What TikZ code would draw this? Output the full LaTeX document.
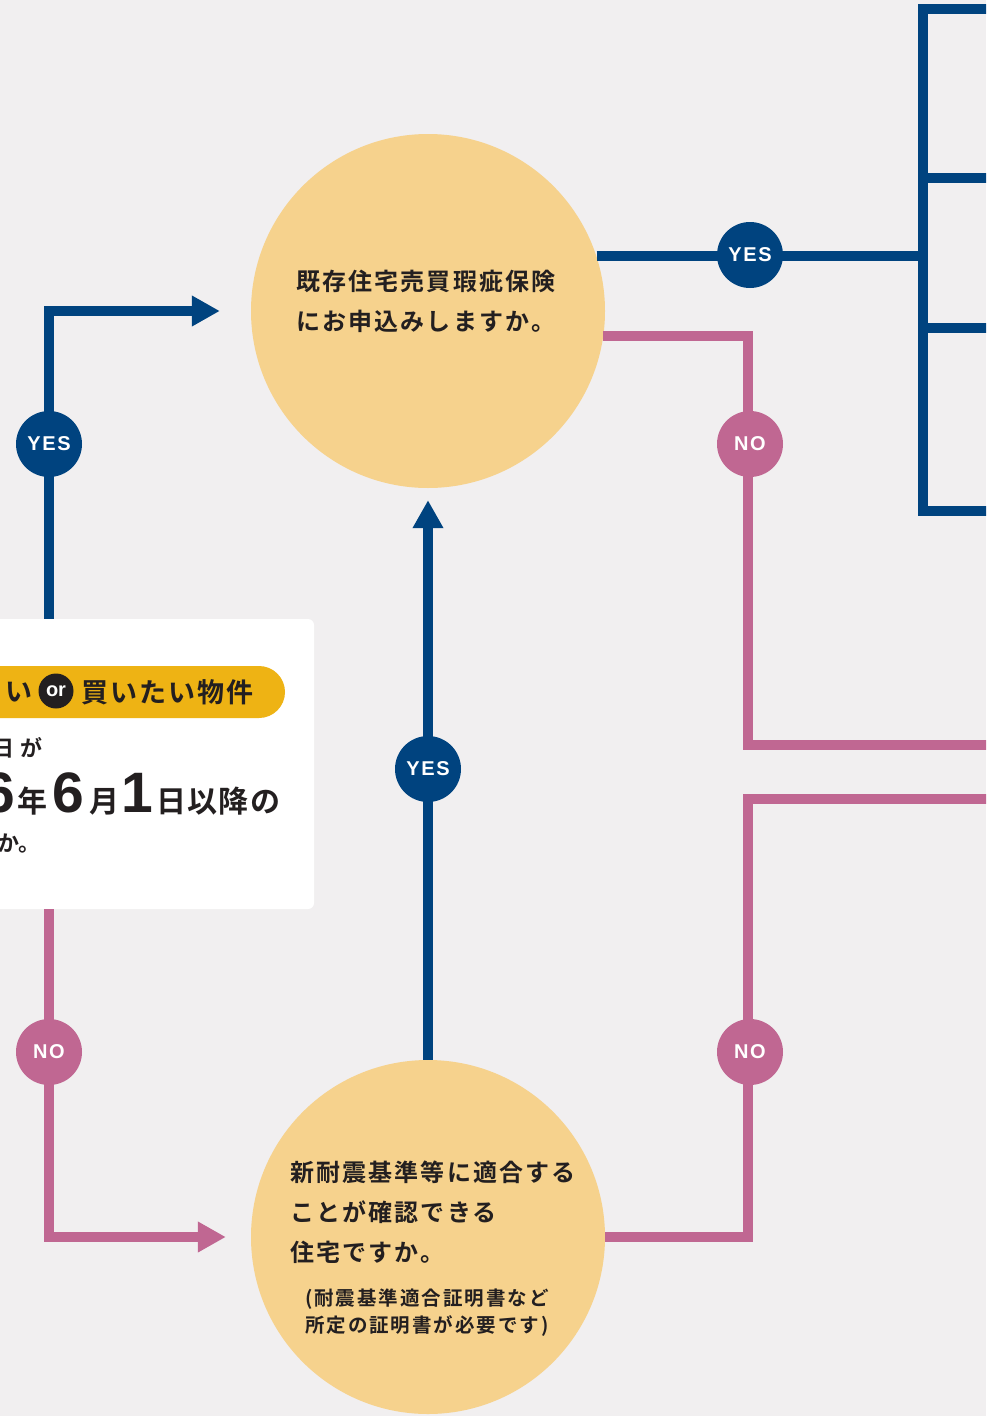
\documentclass[tikz,border=0pt]{standalone}
\usepackage{fontspec}
\setmainfont{Noto Sans CJK JP}[BoldFont={Noto Sans CJK JP Bold}]
\newfontfamily\latf{Liberation Sans}
\usetikzlibrary{arrows.meta}
\definecolor{bg}{RGB}{241,239,240}
\definecolor{navy}{RGB}{0,67,127}
\definecolor{rose}{RGB}{192,103,146}
\definecolor{sand}{RGB}{246,210,141}
\definecolor{gold}{RGB}{238,179,20}
\definecolor{ink}{RGB}{35,31,32}
\begin{document}
\begin{tikzpicture}[x=1pt,y=-1pt,
  q/.style={circle, fill=sand, minimum size=354pt, inner sep=0pt},
  badge/.style={circle, minimum size=66pt, inner sep=0pt, text=white,
    font=\latf\bfseries\fontsize{20}{20}\selectfont\addfontfeatures{LetterSpace=8}},
  yesb/.style={badge, fill=navy},
  nob/.style={badge, fill=rose},
  flow/.style={line width=10pt},
  blueline/.style={flow, draw=navy},
  pinkline/.style={flow, draw=rose},
  tip/.style={-{Triangle[length=28pt,width=29pt]}},
  txt/.style={inner sep=0pt, text=ink},
  qtext/.style={txt, align=left, font=\bfseries\fontsize{24}{40}\selectfont\addfontfeatures{LetterSpace=9}},
  smalltext/.style={txt, align=left, font=\bfseries\fontsize{19.5}{27}\selectfont\addfontfeatures{LetterSpace=10}},
  boxtext/.style={txt, font=\bfseries\fontsize{22}{22}\selectfont},
  pilltext/.style={txt, font=\bfseries\fontsize{27}{27}\selectfont\addfontfeatures{LetterSpace=8}},
  digit/.style={txt, font=\latf\bfseries\fontsize{57}{57}\selectfont},
  kanji/.style={txt, font=\bfseries\fontsize{30}{30}\selectfont},
  ]
\clip (0,0) rectangle (986,1416);
\fill[bg] (0,0) rectangle (986,1416);

% main nodes
\node[q] (q1) at (428,311) {};
\node[q] (q2) at (428,1237) {};
\node[fill=white, rounded corners=6pt, minimum width=324pt, minimum height=290pt, inner sep=0pt] (box) at (152,764) {};

% helper coordinates
\coordinate (lx) at (49,0);
\coordinate (rx) at (748,0);
\coordinate (bx) at (923,0);
\coordinate (e1) at (992,745);
\coordinate (e2) at (992,799);
\coordinate (t1) at (992,9);
\coordinate (t2) at (992,178);
\coordinate (t3) at (992,328);
\coordinate (t4) at (992,511);

% connectors
\draw[blueline,tip] (box.north -| lx) |- ([xshift=-31pt]q1.west);
\draw[pinkline,tip] (box.south -| lx) |- ([xshift=-25pt]q2.west);
\draw[blueline,tip] (q2.north) -- ([yshift=-12pt]q1.south);
\draw[pinkline] (q1.-8.45) -| (rx |- e1) -- (e1);
\draw[pinkline] (q2.east) -| (rx |- e2) -- (e2);
\draw[blueline] (q1.18.4) -- (q1.18.4 -| bx);
\draw[blueline] (t1) -| (bx |- t4) -- (t4);
\draw[blueline] (bx |- t2) -- (t2);
\draw[blueline] (bx |- t3) -- (t3);

% badges
\node[yesb] (y1) at (49,444) {YES};
\node[nob] (n1) at (49,1052) {NO};
\node[yesb] (y2) at (428,769) {YES};
\node[yesb] (y3) at (750,255) {YES};
\node[nob] (n2) at (750,444) {NO};
\node[nob] (n3) at (750,1052) {NO};

% circle texts
\node[qtext, anchor=west] (q1t) at (296,301) {既存住宅売買瑕疵保険\\にお申込みしますか。};
\node[qtext, anchor=west] (q2t) at (290,1212) {新耐震基準等に適合する\\ことが確認できる\\住宅ですか。};
\node[smalltext, anchor=west] (q2s) at (305,1313) {(耐震基準適合証明書など\\所定の証明書が必要です)};

% box contents
\node[fill=gold, rounded corners=26pt, minimum width=326pt, minimum height=52pt, inner sep=0pt] (pill) at (122,692) {};
\node[circle, fill=ink, minimum size=35pt, inner sep=0pt, text=white, font=\latf\bfseries\fontsize{20}{20}\selectfont] (or) at (56,691) {or};
\node[pilltext, anchor=east] (p1) at (33,692) {い};
\node[pilltext, anchor=west] (p2) at (81,692) {買いたい物件};
\node[boxtext, anchor=east] (b1) at (43,748) {日\kern6pt が};
\node[digit, anchor=base east] (d0) at (15,812) {6};
\node[kanji, anchor=base west] (k1) at (17,812) {年};
\node[digit, anchor=base west] (d1) at (52,812) {6};
\node[kanji, anchor=base west] (k2) at (89,812) {月};
\node[digit, anchor=base west] (d2) at (121,812) {1};
\node[kanji, anchor=base west, font=\bfseries\fontsize{30}{30}\selectfont\addfontfeatures{LetterSpace=4.5}] (k3) at (156,812) {日以降の};
\node[boxtext, anchor=east] (b3) at (41,843) {か。};
\end{tikzpicture}
\end{document}
